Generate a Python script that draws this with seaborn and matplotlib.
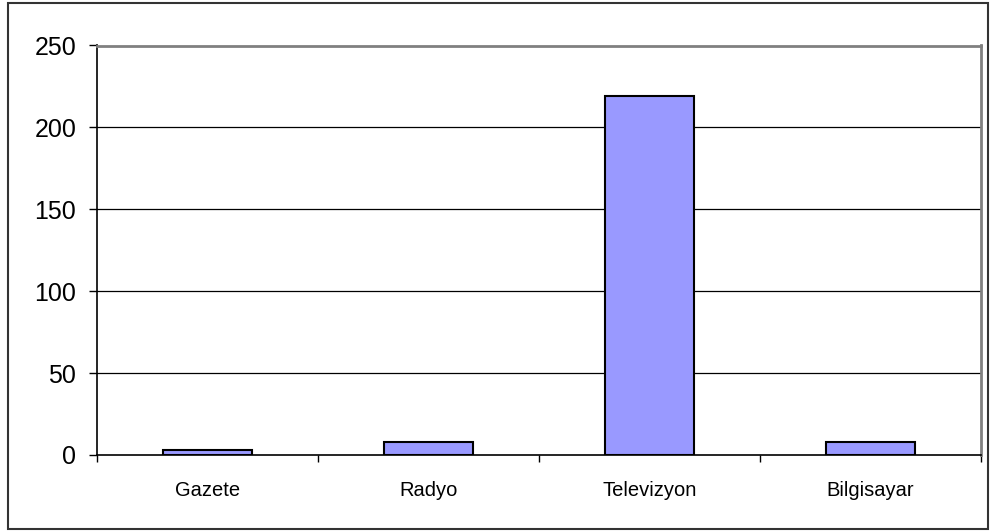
import numpy as np
import matplotlib
matplotlib.use("Agg")
import matplotlib.pyplot as plt
import seaborn as sns
from matplotlib.patches import Rectangle

# Data
categories = ["Gazete", "Radyo", "Televizyon", "Bilgisayar"]
values = [3, 8, 219, 8]
y_ticks = [0, 50, 100, 150, 200, 250]

sns.set_style("white")
plt.rcParams["font.family"] = ["Liberation Sans", "DejaVu Sans"]
plt.rcParams["text.color"] = "black"
plt.rcParams["xtick.color"] = "black"
plt.rcParams["ytick.color"] = "black"

fig = plt.figure(figsize=(9.91, 5.31), dpi=100)
ax = fig.add_axes([97 / 991, 1 - 455 / 531, (981 - 97) / 991, (455 - 45.5) / 531])

# gridlines
for t in y_ticks[1:]:
    ax.axhline(t, color="black", linewidth=0.9, zorder=0)

sns.barplot(
    x=categories,
    y=values,
    color="#9999FF",
    saturation=1,
    edgecolor="black",
    linewidth=1.5,
    width=0.405,
    ax=ax,
    zorder=2,
)

ax.set_ylim(0, 250)
ax.set_xlim(-0.5, 3.5)
ax.set_yticks(y_ticks)
ax.set_xlabel("")
ax.set_ylabel("")

# spines
ax.spines["left"].set_color("black")
ax.spines["bottom"].set_color("black")
ax.spines["left"].set_linewidth(1.2)
ax.spines["bottom"].set_linewidth(1.2)
ax.spines["top"].set_color("#808080")
ax.spines["right"].set_color("#808080")
ax.spines["top"].set_linewidth(2)
ax.spines["right"].set_linewidth(2)
for s in ax.spines.values():
    s.set_zorder(3)

ax.tick_params(axis="y", direction="out", length=6, width=1, color="black",
               labelsize=18, labelcolor="black", pad=9, left=True)
ax.tick_params(axis="x", which="major", length=0, labelsize=14.5,
               labelcolor="black", pad=19)
ax.set_xticks(np.arange(-0.5, 4.0, 1.0), minor=True)
ax.tick_params(axis="x", which="minor", direction="out", length=5, width=1,
               color="black", bottom=True)

# outer frame
fig.patches.append(Rectangle((8 / 991, 2 / 531), 980 / 991, 526 / 531,
                             transform=fig.transFigure, fill=False,
                             edgecolor="#333333", linewidth=1.5))

fig.savefig("out.png", dpi=100)
